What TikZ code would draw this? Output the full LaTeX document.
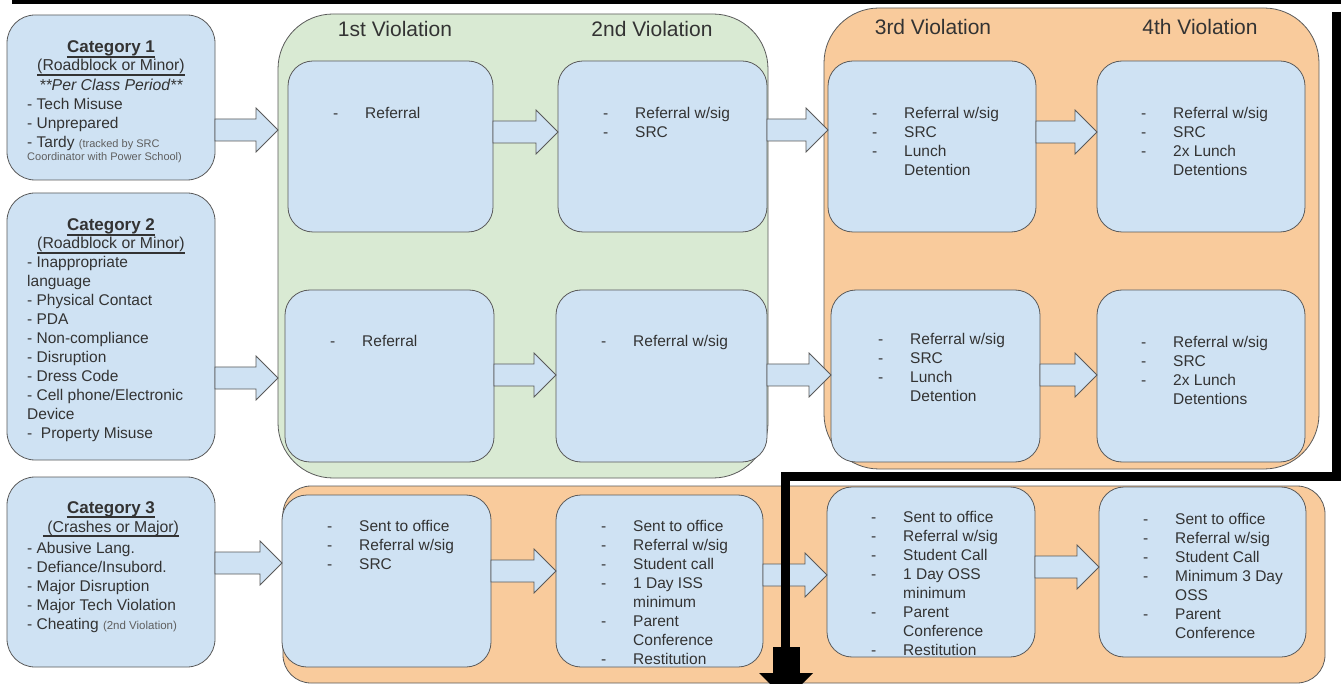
\documentclass[tikz,border=0pt]{standalone}
\usepackage{fontspec}
\setmainfont{Liberation Sans}
\usetikzlibrary{calc}
\definecolor{bluef}{HTML}{CFE2F3}
\definecolor{greenf}{HTML}{D9EAD3}
\definecolor{orangef}{HTML}{F9CB9C}
\definecolor{edge}{HTML}{5A5A5A}
\definecolor{txt}{HTML}{333333}
\definecolor{smalltxt}{HTML}{5F5F5F}
\newcommand\dl[1]{\makebox[32pt][l]{-}#1}
\newcommand\cl[1]{\hspace*{32pt}#1}
\newcommand\itemlist[1]{\begin{tabular}[t]{@{}l@{}}#1\end{tabular}}
\newcommand\smalltext[1]{{\fontsize{11}{13}\selectfont\color{smalltxt}#1}}
\newcommand\bx[6]{\node[#1, minimum width={#5-#3}, minimum height={#6-#4}] (#2) at (#3,#4) {};}
\newcommand\barrow[3]{%
  \draw[barrowst] let \p1=(#1.east |- 0,#3), \p2=(#2.west |- 0,#3) in
  (\x1,\y1+11pt) -- (\x2-22pt,\y1+11pt) -- (\x2-22pt,\y1+22pt) -- (\x2,\y1)
  -- (\x2-22pt,\y1-22pt) -- (\x2-22pt,\y1-11pt) -- (\x1,\y1-11pt) -- cycle;}
\newcommand\uln[2]{\draw[ulst] ($(#1.base west)+(0,#2)$) -- ($(#1.base east)+(0,#2)$);}
\tikzset{
  grp/.style={draw=edge, line width=0.8pt, rounded corners=55pt, inner sep=0pt, outer sep=0pt, anchor=north west},
  greengrp/.style={grp, fill=greenf},
  orangegrp/.style={grp, fill=orangef},
  bbox/.style={draw=edge, line width=0.8pt, fill=bluef, rounded corners=25pt, inner sep=0pt, outer sep=0pt, anchor=north west},
  catbox/.style={bbox, rounded corners=28pt},
  hdr/.style={font=\fontsize{21}{25}\selectfont, text=txt, anchor=base, inner sep=0pt},
  itm/.style={font=\fontsize{15.5}{19}\selectfont, text=txt, anchor=base west, inner sep=0pt},
  ttl/.style={font=\fontsize{17}{21}\selectfont\bfseries, text=txt, anchor=base, inner sep=0pt},
  sub/.style={font=\fontsize{15.8}{19}\selectfont, text=txt, anchor=base, inner sep=0pt},
  ulst/.style={draw=txt, line width=1.1pt},
  barrowst/.style={draw=edge, line width=0.8pt, fill=bluef, line join=miter},
  blackline/.style={line width=9pt, draw=black, line join=miter}
}
\begin{document}
\begin{tikzpicture}[x=1pt, y=-1pt]
\useasboundingbox (0,0) rectangle (1341,684);
\clip (0,0) rectangle (1341,684);
\fill[white] (0,0) rectangle (1341,684);
% groups
\bx{greengrp}{green}{278}{14}{768}{478}
\bx{orangegrp}{orangeA}{824}{8}{1319}{469}
\bx{orangegrp, rounded corners=28pt}{orangeB}{283}{486}{1325}{683}
% category boxes
\bx{catbox}{c1}{7}{15}{215}{180}
\bx{catbox}{c2}{7}{193}{215}{460}
\bx{catbox}{c3}{7}{477}{215}{667}
% violation boxes
\bx{bbox}{v11}{288}{61}{493}{232}
\bx{bbox}{v12}{558}{61}{767}{232}
\bx{bbox}{v13}{828}{61}{1036}{232}
\bx{bbox}{v14}{1097}{61}{1305}{232}
\bx{bbox}{v21}{285}{290}{494}{462}
\bx{bbox}{v22}{556}{290}{767}{462}
\bx{bbox}{v23}{831}{290}{1040}{462}
\bx{bbox}{v24}{1097}{290}{1305}{462}
\bx{bbox}{v31}{282}{495}{491}{667}
\bx{bbox}{v32}{556}{495}{763}{667}
\bx{bbox}{v33}{827}{487}{1035}{657}
\bx{bbox}{v34}{1099}{487}{1306}{657}
% block arrows
\barrow{c1}{green}{130}
\barrow{v11}{v12}{132}
\barrow{v12}{v13}{130}
\barrow{v13}{v14}{132}
\barrow{c2}{green}{378}
\barrow{v21}{v22}{375}
\barrow{v22}{v23}{375}
\barrow{v23}{v24}{375}
\barrow{c3}{v31}{563}
\barrow{v31}{v32}{571}
\barrow{v32}{v33}{575}
\barrow{v33}{v34}{567}
% headers
\node[hdr] (h1) at (395,37) {1st Violation};
\node[hdr] (h2) at (652,37) {2nd Violation};
\node[hdr] (h3) at (933,35) {3rd Violation};
\node[hdr] (h4) at (1200,35) {4th Violation};
% category texts
\node[ttl] (c1t) at (111,53) {Category 1};
\uln{c1t}{4}
\node[sub] (c1s) at (111,71) {(Roadblock or Minor)};
\uln{c1s}{4}
\node[sub, font=\fontsize{15.8}{19}\selectfont\itshape] (c1p) at (111,91) {**Per Class Period**};
\node[itm] (c1l) at (27,110) {\itemlist{- Tech Misuse\\ - Unprepared\\ - Tardy \smalltext{(tracked by SRC}\\[-6pt] \smalltext{Coordinator with Power School)}}};
\node[ttl] (c2t) at (111,231) {Category 2};
\uln{c2t}{4}
\node[sub] (c2s) at (111,249) {(Roadblock or Minor)};
\uln{c2s}{4}
\node[itm] (c2l) at (27,268) {\itemlist{- Inappropriate\\ language\\ - Physical Contact\\ - PDA\\ - Non-compliance\\ - Disruption\\ - Dress Code\\ - Cell phone/Electronic\\ Device\\ -\ \ Property Misuse}};
\node[ttl] (c3t) at (111,513) {Category 3};
\uln{c3t}{4}
\node[sub] (c3s) at (111,532) {\ (Crashes or Major)};
\uln{c3s}{4}
\node[itm] (c3l) at (27,553) {\itemlist{- Abusive Lang.\\ - Defiance/Insubord.\\ - Major Disruption\\ - Major Tech Violation\\ - Cheating {\fontsize{11.5}{13}\selectfont\color{smalltxt}(2nd Violation)}}};
% violation texts
\node[itm] (t11) at (333,119) {\itemlist{\dl{Referral}}};
\node[itm] (t12) at (603,119) {\itemlist{\dl{Referral w/sig}\\ \dl{SRC}}};
\node[itm] (t13) at (872,119) {\itemlist{\dl{Referral w/sig}\\ \dl{SRC}\\ \dl{Lunch}\\ \cl{Detention}}};
\node[itm] (t14) at (1141,119) {\itemlist{\dl{Referral w/sig}\\ \dl{SRC}\\ \dl{2x Lunch}\\ \cl{Detentions}}};
\node[itm] (t21) at (330,347) {\itemlist{\dl{Referral}}};
\node[itm] (t22) at (601,347) {\itemlist{\dl{Referral w/sig}}};
\node[itm] (t23) at (878,345) {\itemlist{\dl{Referral w/sig}\\ \dl{SRC}\\ \dl{Lunch}\\ \cl{Detention}}};
\node[itm] (t24) at (1141,348) {\itemlist{\dl{Referral w/sig}\\ \dl{SRC}\\ \dl{2x Lunch}\\ \cl{Detentions}}};
\node[itm] (t31) at (327,531) {\itemlist{\dl{Sent to office}\\ \dl{Referral w/sig}\\ \dl{SRC}}};
\node[itm] (t32) at (601,531) {\itemlist{\dl{Sent to office}\\ \dl{Referral w/sig}\\ \dl{Student call}\\ \dl{1 Day ISS}\\ \cl{minimum}\\ \dl{Parent}\\ \cl{Conference}\\ \dl{Restitution}}};
\node[itm] (t33) at (871,522) {\itemlist{\dl{Sent to office}\\ \dl{Referral w/sig}\\ \dl{Student Call}\\ \dl{1 Day OSS}\\ \cl{minimum}\\ \dl{Parent}\\ \cl{Conference}\\ \dl{Restitution}}};
\node[itm] (t34) at (1143,524) {\itemlist{\dl{Sent to office}\\ \dl{Referral w/sig}\\ \dl{Student Call}\\ \dl{Minimum 3 Day}\\ \cl{OSS}\\ \dl{Parent}\\ \cl{Conference}}};
% black frame line and arrow
\fill[black] (12,0) rectangle (1341,4.5);
\coordinate (bl0) at (1336,12);
\coordinate (bl1) at (1336,476);
\coordinate (bl2) at (785,476);
\coordinate (bl3) at (785,650);
\draw[blackline] (bl0) -- (bl1) -- (bl2) -- (bl3);
\fill[black] (773,647) rectangle (800,673);
\fill[black] (759,673) -- (813,673) -- (786,700) -- cycle;
\end{tikzpicture}
\end{document}
